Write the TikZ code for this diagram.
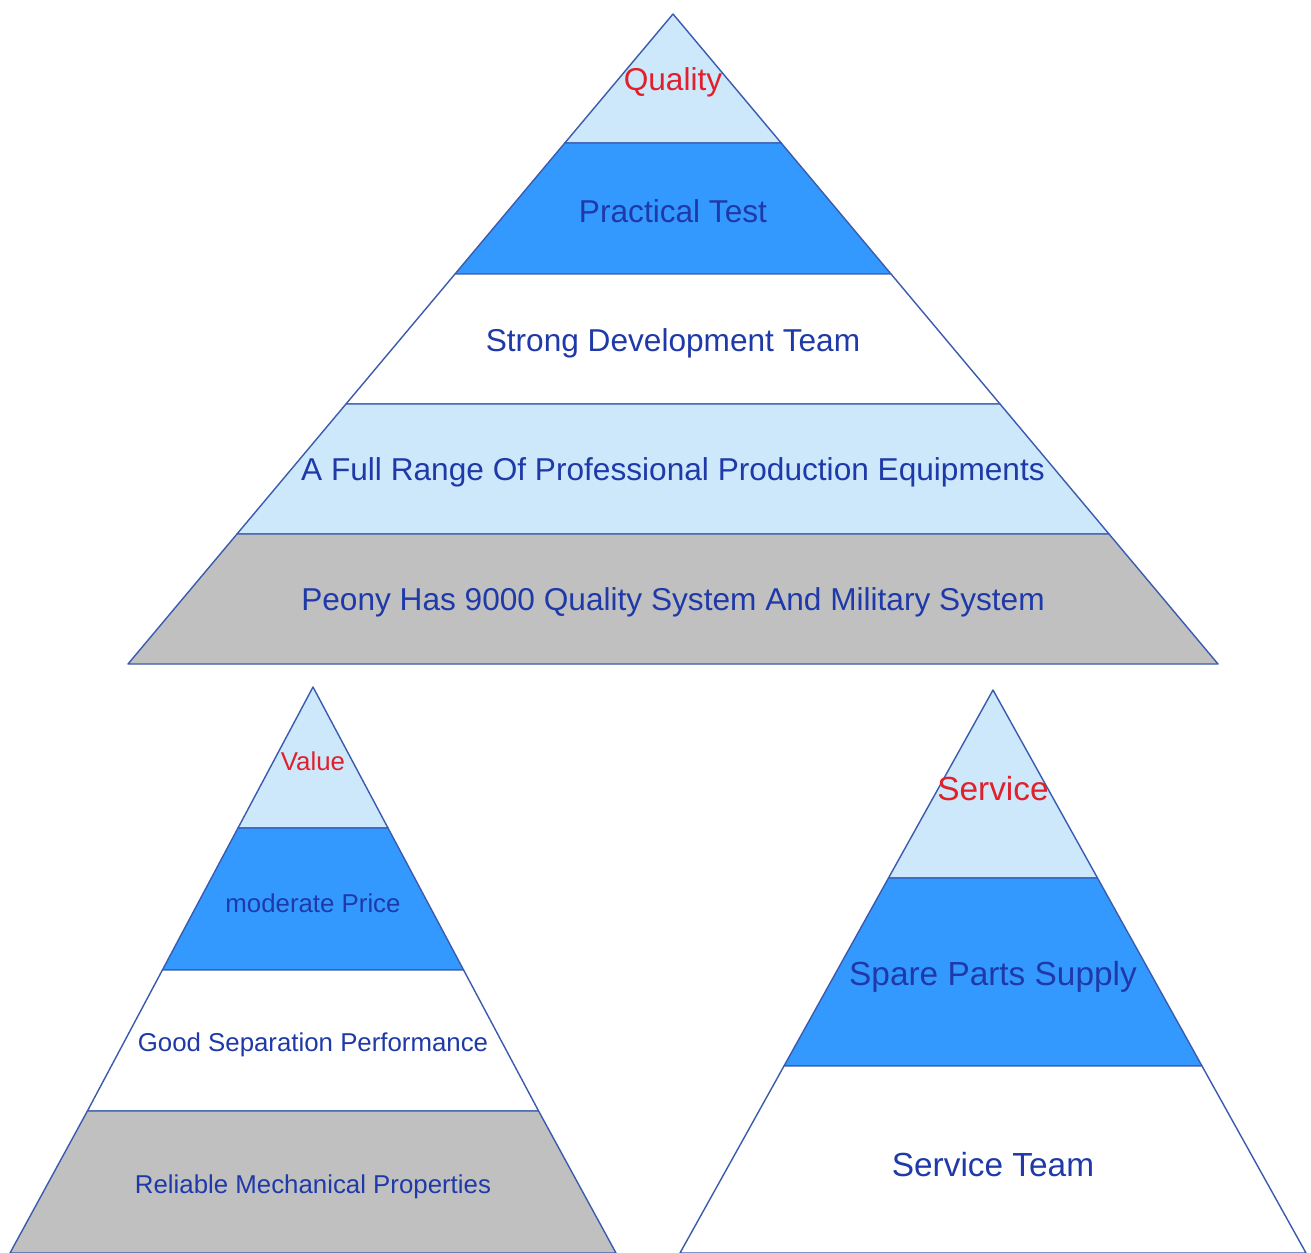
\documentclass[tikz,border=0pt]{standalone}
\usepackage{fontspec}
\setmainfont{Liberation Sans}
\usetikzlibrary{positioning}
\definecolor{paleblue}{HTML}{CCE8FA}
\definecolor{midblue}{HTML}{3399FF}
\definecolor{stonegray}{HTML}{C0C0C0}
\definecolor{edgeblue}{HTML}{3A5BAE}
\definecolor{inkblue}{HTML}{1F3AA8}
\definecolor{titlered}{HTML}{E0202A}
\tikzstyle{layer} = [draw=edgeblue, line width=0.8pt, line join=round]
\tikzstyle{label} = [text=inkblue, inner sep=0pt]
\tikzstyle{title} = [text=titlered, inner sep=0pt]

\begin{document}
\begin{tikzpicture}[x=0.02cm, y=-0.02cm]
\useasboundingbox (0,0) rectangle (1311,1253);

% quality pyramid
\filldraw[layer, fill=paleblue] (673,14) -- (781.2,143) -- (564.8,143) -- cycle;
\filldraw[layer, fill=midblue] (564.8,143) -- (781.2,143) -- (891,274) -- (455,274) -- cycle;
\filldraw[layer, fill=white] (455,274) -- (891,274) -- (1000,404) -- (346,404) -- cycle;
\filldraw[layer, fill=paleblue] (346,404) -- (1000,404) -- (1109,534) -- (237,534) -- cycle;
\filldraw[layer, fill=stonegray] (237,534) -- (1109,534) -- (1218,664) -- (128,664) -- cycle;

\node (quality) [title, font=\fontsize{18}{21}\selectfont] at (673,82) {Quality};
\node (practical) [label, font=\fontsize{18}{21}\selectfont] at (673,211) {Practical Test};
\node (devteam) [label, font=\fontsize{18}{21}\selectfont] at (673,343) {Strong Development Team};
\node (equipment) [label, font=\fontsize{18}{21}\selectfont] at (673,472) {A Full Range Of Professional Production Equipments};
\node (system) [label, font=\fontsize{18}{21}\selectfont] at (673,602) {Peony Has 9000 Quality System And Military System};

% value pyramid
\filldraw[layer, fill=paleblue] (313,687) -- (388,828) -- (238,828) -- cycle;
\filldraw[layer, fill=midblue] (238,828) -- (388,828) -- (463.6,970) -- (162.4,970) -- cycle;
\filldraw[layer, fill=white] (162.4,970) -- (463.6,970) -- (538.6,1111) -- (87.4,1111) -- cycle;
\filldraw[layer, fill=stonegray] (87.4,1111) -- (538.6,1111) -- (616,1253) -- (10,1253) -- cycle;

\node (value) [title, font=\fontsize{14.7}{17}\selectfont] at (313,761) {Value};
\node (price) [label, font=\fontsize{14.7}{17}\selectfont] at (313,903) {moderate Price};
\node (separation) [label, font=\fontsize{14.7}{17}\selectfont] at (313,1045) {Good Separation Performance};
\node (mechanical) [label, font=\fontsize{14.7}{17}\selectfont] at (313,1187) {Reliable Mechanical Properties};

% service pyramid
\filldraw[layer, fill=paleblue] (993,690) -- (1097.5,878) -- (888.5,878) -- cycle;
\filldraw[layer, fill=midblue] (888.5,878) -- (1097.5,878) -- (1202,1066) -- (784,1066) -- cycle;
\filldraw[layer, fill=white] (784,1066) -- (1202,1066) -- (1306,1253) -- (680,1253) -- cycle;

\node (service) [title, font=\fontsize{19}{22}\selectfont] at (993,789) {Service};
\node (spares) [label, font=\fontsize{19}{22}\selectfont] at (993,977) {Spare Parts Supply};
\node (serviceteam) [label, font=\fontsize{19}{22}\selectfont] at (993,1165) {Service Team};
\end{tikzpicture}
\end{document}
